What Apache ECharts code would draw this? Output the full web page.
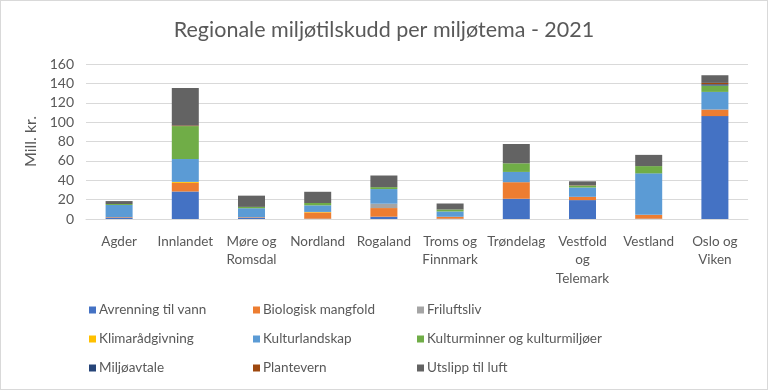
<!DOCTYPE html>
<html>
<head>
<meta charset="utf-8">
<script src="https://cdn.jsdelivr.net/npm/echarts@6/dist/echarts.min.js"></script>
<style>
html,body{margin:0;padding:0;background:#fff;}
#c{width:766px;height:388px;border:1px solid #d9d9d9;}
</style>
</head>
<body>
<div id="c"></div>
<script>
var categories = ['Agder','Innlandet','Møre og\nRomsdal','Nordland','Rogaland','Troms og\nFinnmark','Trøndelag','Vestfold\nog\nTelemark','Vestland','Oslo og\nViken'];
var seriesNames = ['Avrenning til vann','Biologisk mangfold','Friluftsliv','Klimarådgivning','Kulturlandskap','Kulturminner og kulturmiljøer','Miljøavtale','Plantevern','Utslipp til luft'];
var avrenning      = [1.5, 28.4, 1.4, 0.3, 2.4, 0.3, 20.9, 19.5, 0.3, 106.2];
var biologisk      = [0.5, 8.9, 0.5, 6.5, 8.9, 2.0, 17.1, 3.4, 4.0, 6.8];
var friluftsliv    = [0, 0, 0, 0, 4.5, 0, 0, 0, 0, 0];
var klima          = [0, 1.0, 0, 0.5, 0, 0, 0, 0, 0, 0];
var kulturlandskap = [12.5, 23.6, 9.2, 6.8, 15.1, 5.5, 10.6, 9.6, 42.8, 18.2];
var kulturminner   = [1.0, 34.0, 1.4, 2.4, 2.0, 2.0, 8.9, 2.0, 7.5, 6.5];
var miljoavtale    = [0, 0, 0, 0, 0, 0, 0, 0, 0, 1.4];
var plantevern     = [0, 0.7, 0, 0, 0, 0, 0, 0.3, 0, 1.4];
var utslipp        = [3.0, 38.7, 11.6, 11.6, 12.0, 6.2, 19.9, 4.1, 11.6, 7.9];
var yTicks = [0, 20, 40, 60, 80, 100, 120, 140, 160];

var dataSets = [avrenning, biologisk, friluftsliv, klima, kulturlandskap, kulturminner, miljoavtale, plantevern, utslipp];
var colors = ['#4472C4','#ED7D31','#A5A5A5','#FFC000','#5B9BD5','#70AD47','#264478','#9E480E','#636363'];
var FONT = 'Lato, "Liberation Sans", sans-serif';
var chart = echarts.init(document.getElementById('c'));
var series = seriesNames.map(function(n,i){
  return {name:n,type:'bar',stack:'s',data:dataSets[i],barWidth:27,
    itemStyle:{color:colors[i]},emphasis:{disabled:true}};
});
function legend(names, left){
  return {data:names, left:left, top:297, orient:'vertical', itemGap:15,
    itemWidth:7, itemHeight:7, icon:'rect', selectedMode:false,
    textStyle:{fontFamily:FONT,fontSize:13.5,color:'#595959',padding:[0,0,0,-2]}};
}
chart.setOption({
  animation:false,
  color:colors,
  title:{text:'Regionale miljøtilskudd per miljøtema - 2021',left:'center',top:13,
    textStyle:{fontFamily:FONT,fontSize:21.5,fontWeight:'normal',color:'#595959'}},
  legend:[
    legend([seriesNames[0],seriesNames[3],seriesNames[6]],83),
    legend([seriesNames[1],seriesNames[4],seriesNames[7]],247),
    legend([seriesNames[2],seriesNames[5],seriesNames[8]],411)
  ],
  grid:{left:85,right:19,top:63,bottom:170},
  xAxis:{type:'category',data:categories,
    axisLine:{lineStyle:{color:'#d9d9d9'}},axisTick:{show:false},
    axisLabel:{interval:0,fontFamily:FONT,fontSize:13.5,color:'#595959',lineHeight:18.5,margin:13}},
  yAxis:{type:'value',min:0,max:160,interval:20,
    name:'Mill. kr.',nameLocation:'middle',nameGap:44,nameRotate:90,
    nameTextStyle:{fontFamily:FONT,fontSize:16,color:'#595959'},
    axisLabel:{fontFamily:FONT,fontSize:14,color:'#595959',margin:12},
    splitLine:{lineStyle:{color:'#d9d9d9'}},axisLine:{show:false},axisTick:{show:false}},
  series:series
});
</script>
</body>
</html>
